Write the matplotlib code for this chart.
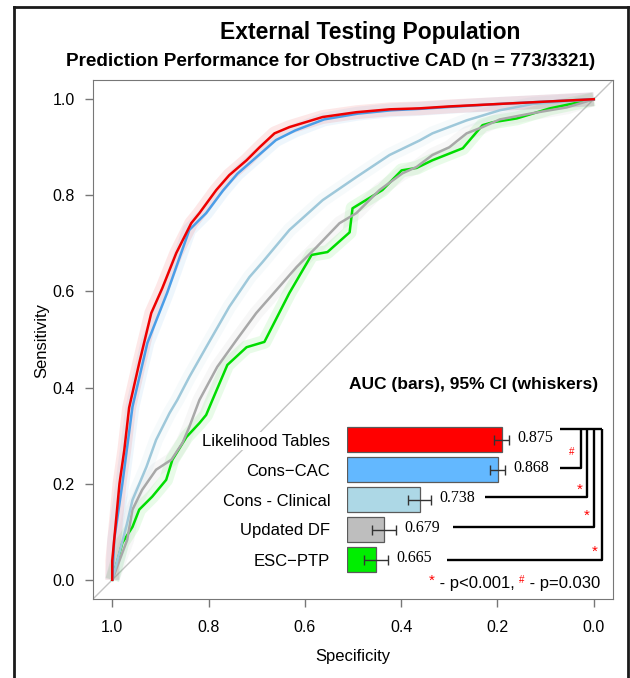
import numpy as np
import matplotlib.pyplot as plt
from matplotlib.lines import Line2D

plt.rcParams['font.family'] = ['Liberation Sans', 'DejaVu Sans']

# Dados

modelos = ['Likelihood Tables', 'Cons\u2212CAC', 'Cons - Clinical', 'Updated DF', 'ESC\u2212PTP']
auc = [0.875, 0.868, 0.738, 0.679, 0.665]
ic_inf = [0.862, 0.856, 0.719, 0.659, 0.645]
ic_sup = [0.887, 0.880, 0.757, 0.699, 0.685]
cores_barra = ['#ff0000', '#63b8ff', '#add8e6', '#bebebe', '#00ee00']
cores_linha = ['#ee0000', '#4a9ee8', '#9ec8da', '#a8a8a8', '#00dd00']

spec_lt = [1.0, 1.0, 0.985, 0.975, 0.965, 0.944, 0.919, 0.896, 0.867, 0.836, 0.819, 0.784,
           0.757, 0.721, 0.694, 0.663, 0.632, 0.563, 0.493, 0.424, 0.362, 0.30, 0.2, 0.1, 0.0]
sens_lt = [0.0, 0.04, 0.2, 0.27, 0.358, 0.451, 0.555, 0.607, 0.68, 0.742, 0.763, 0.811,
           0.842, 0.873, 0.9, 0.929, 0.942, 0.963, 0.973, 0.979, 0.981, 0.985, 0.99, 0.995, 1.0]

spec_cac = [1.0, 0.996, 0.979, 0.958, 0.927, 0.886, 0.84, 0.805, 0.77, 0.74, 0.70, 0.66,
            0.62, 0.56, 0.49, 0.42, 0.36, 0.30, 0.2, 0.1, 0.0]
sens_cac = [0.0, 0.083, 0.2, 0.36, 0.493, 0.597, 0.728, 0.763, 0.81, 0.845, 0.88, 0.915,
            0.935, 0.958, 0.97, 0.977, 0.98, 0.984, 0.99, 0.995, 1.0]

spec_clin = [1.0, 0.971, 0.958, 0.929, 0.909, 0.881, 0.865, 0.84, 0.805, 0.757, 0.715, 0.688,
             0.632, 0.563, 0.493, 0.424, 0.362, 0.335, 0.264, 0.195, 0.127, 0.0]
sens_clin = [0.0, 0.11, 0.166, 0.235, 0.291, 0.347, 0.374, 0.422, 0.484, 0.568, 0.63, 0.661,
             0.728, 0.79, 0.838, 0.884, 0.914, 0.929, 0.956, 0.977, 0.99, 1.0]

spec_df = [1.0, 0.969, 0.958, 0.938, 0.909, 0.877, 0.854, 0.84, 0.819, 0.782, 0.742, 0.701,
           0.659, 0.617, 0.576, 0.528, 0.493, 0.445, 0.397, 0.368, 0.335, 0.30, 0.264, 0.231,
           0.195, 0.127, 0.056, 0.0]
sens_df = [0.0, 0.083, 0.146, 0.187, 0.229, 0.25, 0.285, 0.318, 0.374, 0.443, 0.499, 0.555,
           0.603, 0.651, 0.692, 0.742, 0.763, 0.811, 0.846, 0.859, 0.884, 0.9, 0.929, 0.942,
           0.958, 0.971, 0.983, 1.0]

spec_esc = [1.0, 0.979, 0.958, 0.944, 0.917, 0.888, 0.875, 0.846, 0.819, 0.805, 0.792, 0.761,
            0.721, 0.684, 0.632, 0.586, 0.553, 0.507, 0.501, 0.439, 0.399, 0.368, 0.335, 0.272,
            0.231, 0.21, 0.16, 0.091, 0.0]
sens_esc = [0.0, 0.077, 0.11, 0.146, 0.173, 0.208, 0.25, 0.297, 0.326, 0.343, 0.374, 0.447,
            0.484, 0.495, 0.597, 0.676, 0.682, 0.723, 0.773, 0.811, 0.852, 0.857, 0.873, 0.898,
            0.946, 0.952, 0.96, 0.981, 1.0]

curvas = [(spec_lt, sens_lt), (spec_cac, sens_cac), (spec_clin, sens_clin),
          (spec_df, sens_df), (spec_esc, sens_esc)]

W, H = 630, 678
fig = plt.figure(figsize=(W / 100, H / 100), dpi=100)


def caixa(x0, y0, x1, y1):
    # pixels (origem no topo) -> fração da figura
    return [x0 / W, 1 - y1 / H, (x1 - x0) / W, (y1 - y0) / H]


# Curvas ROC
ax = fig.add_axes(caixa(93, 80, 613, 599))
ax.axline((1, 0), (0, 1), color='#c4c4c4', lw=1, zorder=1)
for (esp, sen), cor in list(zip(curvas, cores_linha))[::-1]:
    ax.plot(esp, sen, color=cor, lw=10, alpha=0.09, solid_joinstyle='round',
            solid_capstyle='butt', zorder=2)
for (esp, sen), cor in list(zip(curvas, cores_linha))[::-1]:
    ax.plot(esp, sen, color=cor, lw=1.8, zorder=3)

ax.set_xlim(1.04, -0.04)
ax.set_ylim(-0.04, 1.04)
ticks = [1.0, 0.8, 0.6, 0.4, 0.2, 0.0]
ax.set_xticks(ticks, [f'{t:.1f}' for t in ticks])
ax.set_yticks(ticks, [f'{t:.1f}' for t in ticks])
ax.tick_params(length=6, width=1, color='#777777', labelsize=11.5)
ax.tick_params(axis='x', pad=9)
ax.tick_params(axis='y', pad=7)
for s in ax.spines.values():
    s.set_color('#777777')

fig.text(42 / W, 1 - 340 / H, 'Sensitivity', rotation=90, ha='center', va='center', fontsize=12)
fig.text(353 / W, 1 - 656 / H, 'Specificity', ha='center', va='center', fontsize=12)

fig.text(370 / W, 1 - 33 / H, 'External Testing Population', ha='center', va='center',
         fontsize=16.5, fontweight='bold')
fig.text(331 / W, 1 - 62 / H, 'Prediction Performance for Obstructive CAD (n = 773/3321)',
         ha='center', va='center', fontsize=13.6, fontweight='bold')

# Barras de AUC
base = 0.617
escala = 600  # pixels por unidade de AUC
pos = np.arange(len(modelos))[::-1]
auc_a = np.array(auc)
axb = fig.add_axes(caixa(347, 424.5, 613, 574.5))
axb.patch.set_alpha(0)
for s in axb.spines.values():
    s.set_visible(False)
axb.barh(pos, auc_a - base, left=base, height=0.83, color=cores_barra,
         edgecolor='#5a5a5a', linewidth=0.9)
axb.errorbar(auc_a, pos, xerr=[auc_a - np.array(ic_inf), np.array(ic_sup) - auc_a],
             fmt='none', ecolor='#333333', elinewidth=1, capsize=3.5, capthick=1)
for p, v, hi in zip(pos, auc, ic_sup):
    axb.text(hi + 0.014, p + 0.05, f'{v:.3f}', va='center', ha='left', fontsize=11.5,
             family='Liberation Serif')
axb.set_xlim(base, base + 266 / escala)
axb.set_ylim(-0.5, 4.5)
axb.set_xticks([])
axb.set_yticks(pos, modelos)
axb.tick_params(length=0, pad=12, labelsize=12)
for lbl in axb.get_yticklabels():
    lbl.set_bbox(dict(facecolor='white', edgecolor='none', pad=1))

fig.text(598 / W, 1 - 385 / H, 'AUC (bars), 95% CI (whiskers)', ha='right', va='center',
         fontsize=12.5, fontweight='bold')

# chaves de comparação
bx = base + (np.array([560, 581, 587, 594, 602]) - 347) / escala
topo = 4.35
kw = dict(color='black', lw=1.7, clip_on=False, solid_capstyle='butt')
axb.plot([bx[0], bx[4]], [topo, topo], **kw)
axb.plot([bx[0], bx[1], bx[1]], [3.05, 3.05, topo], **kw)
fim = base + (np.array([485, 453, 447]) - 347) / escala
for xv, xe, yv in zip(bx[2:], fim, [2.1, 1.1, 0.0]):
    axb.plot([xe, xv, xv], [yv, yv, topo], **kw)
axb.text(bx[1] - 0.016, 3.58, '#', color='red', fontsize=7, ha='center', va='center')
for xv, yv in zip(bx[2:], [2.32, 1.45, 0.25]):
    axb.text(xv - 0.012, yv, '*', color='red', fontsize=11, ha='center', va='center')

# legenda de significância
r = fig.canvas.get_renderer()
pecas = [('*', 'red', 11, 3), (' - p<0.001, ', 'black', 12, 0),
         ('#', 'red', 7, 5), (' - p=0.030', 'black', 12, 0)]
textos = []
for s, c, tam, dy in pecas:
    t = fig.text(0, 0, s, color=c, fontsize=tam, va='baseline', transform=None)
    textos.append((t, dy))
larg = [t.get_window_extent(r).width for t, dy in textos]
x = 600 - sum(larg)
for (t, dy), w in zip(textos, larg):
    t.set_position((x, H - 588 + dy))
    x += w

# moldura externa
for xs, ys in [([14, 14], [7, H]), ([14, 628], [7, 7]), ([628, 628], [7, H])]:
    fig.add_artist(Line2D([v / W for v in xs], [1 - v / H for v in ys],
                          transform=fig.transFigure, color='#1a1a1a', lw=2))

fig.savefig('out.png', dpi=100)
